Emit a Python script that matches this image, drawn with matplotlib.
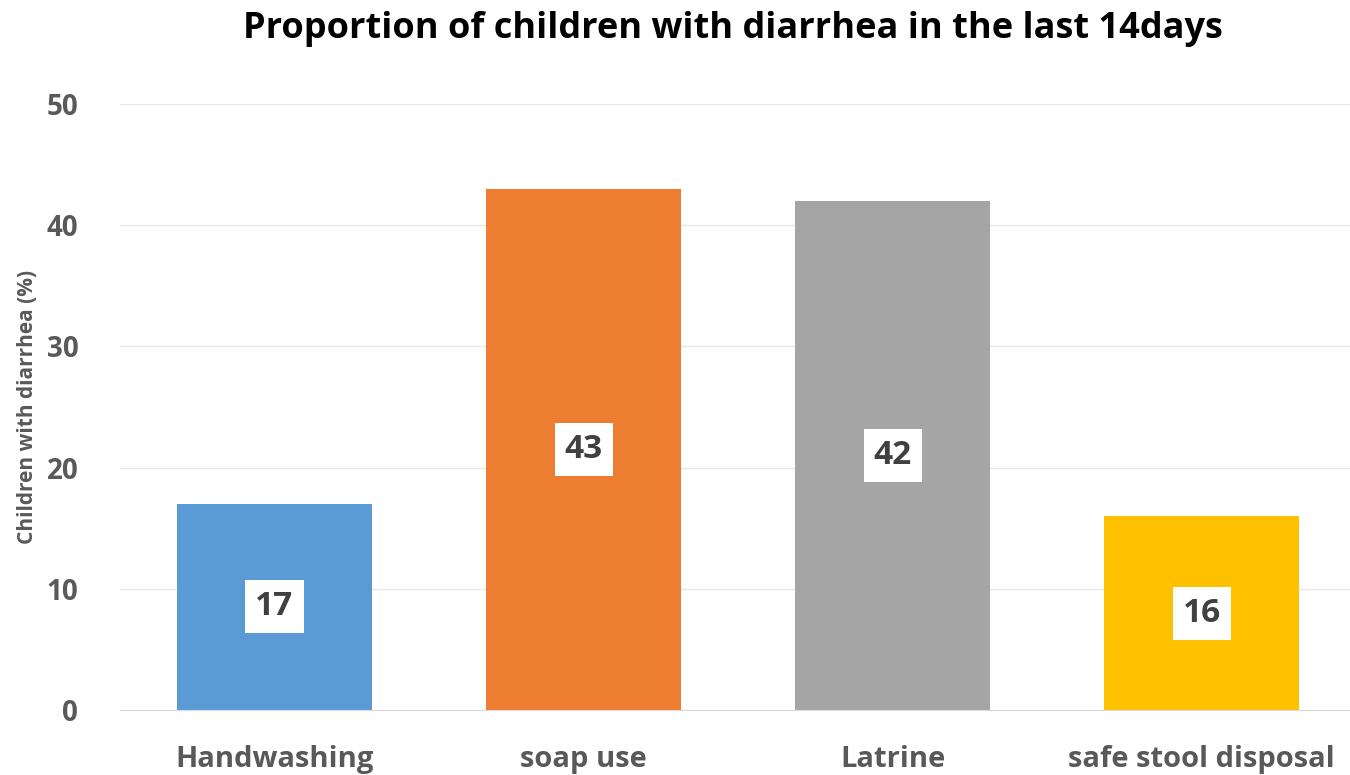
import matplotlib
matplotlib.use("Agg")
import matplotlib.pyplot as plt

categories = ["Handwashing", "soap use", "Latrine", "safe stool disposal"]
values = [17, 43, 42, 16]
colors = ["#5B9BD5", "#ED7D31", "#A5A5A5", "#FFC000"]
yticks = [0, 10, 20, 30, 40, 50]

plt.rcParams['font.family'] = ['Open Sans', 'DejaVu Sans']

fig = plt.figure(figsize=(13.5, 7.75), dpi=100)
ax = fig.add_axes([120/1350, 65/775, 1230/1350, 606/775])

x = range(len(categories))
bars = ax.bar(x, values, width=0.63, color=colors, zorder=3)
ax.set_xlim(-0.5, 3.48)
ax.set_ylim(0, 50)
ax.set_yticks(yticks)
ax.set_xticks(list(x))
ax.set_xticklabels(categories)

for b, v in zip(bars, values):
    ax.text(b.get_x() + b.get_width()/2, v/2, str(v), ha='center', va='center',
            fontsize=24, fontweight='bold', color='#404040', zorder=4,
            bbox=dict(boxstyle='square,pad=0.3', facecolor='white', edgecolor='none'))

ax.grid(axis='y', color='#E8E8E8', linewidth=1, zorder=0)
for s in ['top', 'right', 'left']:
    ax.spines[s].set_visible(False)
ax.spines['bottom'].set_color('#D9D9D9')
ax.spines['bottom'].set_zorder(5)
ax.tick_params(axis='both', length=0, colors='#595959')
ax.tick_params(axis='y', labelsize=20, pad=30)
ax.tick_params(axis='x', labelsize=21, pad=25)
for lbl in ax.get_xticklabels() + ax.get_yticklabels():
    lbl.set_fontweight('bold')

ax.set_ylabel("Children with diarrhea (%)", fontsize=15, fontweight='bold', color='#595959', labelpad=6)
fig.text(0.543, 0.962, "Proportion of children with diarrhea in the last 14days", ha='center', va='center',
         fontsize=26, fontweight='bold', color='black')

fig.savefig("out.png", dpi=100, facecolor='white')
